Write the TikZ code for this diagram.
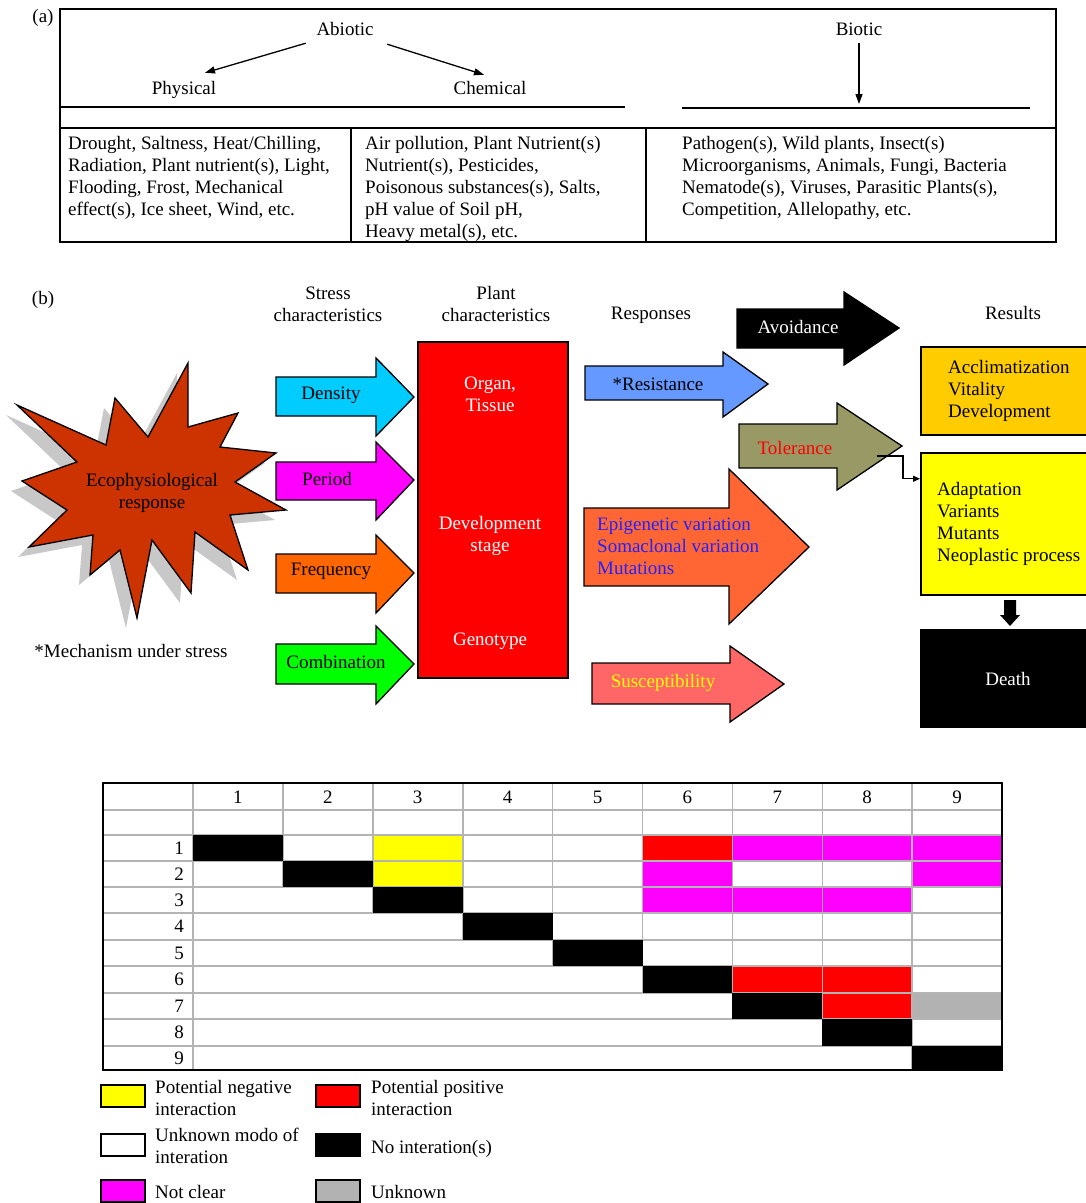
\documentclass[tikz,border=0pt]{standalone}
\usepackage{fontspec}
\setmainfont{Liberation Serif}
\usetikzlibrary{arrows.meta}
\definecolor{starC}{HTML}{CC3300}
\definecolor{denC}{HTML}{00CCFF}
\definecolor{perC}{HTML}{FF00FF}
\definecolor{freC}{HTML}{FF6600}
\definecolor{comC}{HTML}{00FF00}
\definecolor{resC}{HTML}{6699FF}
\definecolor{tolC}{HTML}{999966}
\definecolor{bigC}{HTML}{FF6633}
\definecolor{susC}{HTML}{FF6666}
\definecolor{accC}{HTML}{FFCC00}
\definecolor{yelC}{HTML}{FFFF00}
\definecolor{gryC}{HTML}{B2B2B2}
\definecolor{gridC}{HTML}{B4B4B4}
\definecolor{blueT}{HTML}{2222FF}
\definecolor{shadC}{HTML}{C8C8C8}
\newcommand\blockarr[9]{\draw[blk,fill=#1] (#2,#4) -- (#3,#4) -- (#3,#6) -- (#8,#9) -- (#3,#7) -- (#3,#5) -- (#2,#5) -- cycle;}
\newcommand\starshape[1]{\path[#1] (188,363) -- (188,427) -- (238,413) -- (220,447) -- (276,453) -- (235,482) -- (286,510) -- (230,515) -- (248,570) -- (195,532) -- (191,593) -- (152,540) -- (137,618) -- (120,550) -- (90,575) -- (93,535) -- (29,547) -- (67,510) -- (22,481) -- (77,462) -- (17,405) -- (106,445) -- (115,398) -- (148,437) -- cycle;}
\newcommand\cellfill[3]{%
 \pgfmathsetmacro\cxa{193+89.9*(#1-1)}%
 \pgfmathsetmacro\cya{{835,861,887,913,940,966,993,1019,1046,1070}[#2-1]}%
 \pgfmathsetmacro\cyb{{835,861,887,913,940,966,993,1019,1046,1070}[#2]}%
 \fill[#3] (\cxa,\cya) rectangle (\cxa+89.9,\cyb);}
\begin{document}
\begin{tikzpicture}[x=1pt,y=-1pt,
  every node/.style={font=\fontsize{19}{22}\selectfont, inner sep=0pt},
  lbl/.style={text height=13pt, text depth=4pt},
  blk/.style={draw=black, line width=1.3pt, line join=miter},
  arr/.style={line width=1.3pt, -{Triangle[length=10pt,width=7pt]}},
  gridl/.style={draw=gridC, line width=1.6pt},
  legbox/.style={draw=black, line width=1.5pt, minimum width=44pt, minimum height=22pt},
  listtxt/.style={align=left, anchor=north west}]
\useasboundingbox (0,0) rectangle (1086,1203);
\fill[white] (0,0) rectangle (1086,1203);

% ---------- (a) ----------
\node[lbl] (laba) at (43,18) {(a)};
\draw[line width=2pt] (60,9) rectangle (1056,242);
\draw[line width=1.5pt] (61,107) -- (625,107);
\draw[line width=1.5pt] (682,108) -- (1030,108);
\draw[line width=1.5pt] (60,128) -- (1056,128);
\draw[line width=1.5pt] (351,128) -- (351,242);
\draw[line width=1.5pt] (646,128) -- (646,242);
\node[lbl] (abiotic) at (345,31) {Abiotic};
\node[lbl] (physical) at (184,90) {Physical};
\node[lbl] (chemical) at (490,90) {Chemical};
\node[lbl] (biotic) at (859,31) {Biotic};
\coordinate (biofree) at (859,104);
\draw[arr] ([xshift=-10.5pt,yshift=-3.5pt]abiotic.south west) -- ([xshift=21pt,yshift=8.5pt]physical.north);
\draw[arr] ([xshift=13.5pt,yshift=-4.5pt]abiotic.south east) -- ([xshift=-6pt,yshift=6.5pt]chemical.north);
\draw[arr] ([yshift=-3.5pt]biotic.south) -- (biofree);
\node[listtxt] (physlist) at (68,136) {Drought, Saltness, Heat/Chilling,\\Radiation, Plant nutrient(s), Light,\\Flooding, Frost, Mechanical\\effect(s), Ice sheet, Wind, etc.};
\node[listtxt] (chemlist) at (365,136) {Air pollution, Plant Nutrient(s)\\Nutrient(s), Pesticides,\\Poisonous substances(s), Salts,\\pH value of Soil pH,\\Heavy metal(s), etc.};
\node[listtxt] (biolist) at (682,136) {Pathogen(s), Wild plants, Insect(s)\\Microorganisms, Animals, Fungi, Bacteria\\Nematode(s), Viruses, Parasitic Plants(s),\\Competition, Allelopathy, etc.};

% ---------- (b) ----------
\node[lbl] (labb) at (43,300) {(b)};
\node[align=center] (stresshd) at (328,304) {Stress\\characteristics};
\node[align=center] (planthd) at (496,304) {Plant\\characteristics};
\node[lbl] (resphd) at (651,315) {Responses};
\node[lbl] (resulthd) at (1013,315) {Results};

\starshape{fill=shadC, shift={(-11,10)}}
\starshape{draw=black, line width=1.3pt, fill=starC, line join=miter}
\node[align=center] (eco) at (152,493) {Ecophysiological\\response};
\node[lbl] (mech) at (131,653) {*Mechanism under stress};

\blockarr{denC}{276}{376}{377}{416}{358}{436}{414}{397}
\blockarr{perC}{276}{376}{462}{500}{442}{520}{414}{480}
\blockarr{freC}{276}{376}{554}{593}{535}{613}{414}{573}
\blockarr{comC}{276}{376}{644}{684}{626}{704}{414}{664}
\node[lbl] (density) at (331,395) {Density};
\node[lbl] (period) at (327,481) {Period};
\node[lbl] (frequency) at (331,571) {Frequency};
\node[lbl] (combination) at (336,664) {Combination};

\node[draw=black, line width=1.5pt, fill=red, minimum width=150pt, minimum height=336pt, anchor=north west] (plant) at (417,341) {};
\node[align=center, text=white] (organ) at (490,394) {Organ,\\Tissue};
\node[align=center, text=white] (devst) at (490,536) {Development\\stage};
\node[lbl, text=white] (genotype) at (490,641) {Genotype};

\blockarr{black}{737}{844}{309}{348}{292}{365}{899}{328}
\blockarr{resC}{585}{723}{366}{400}{352}{417}{768}{384}
\blockarr{tolC}{739}{837}{424}{468}{403}{490}{902}{446}
\blockarr{bigC}{584}{729}{508}{586}{469}{624}{809}{547}
\blockarr{susC}{592}{730}{663}{704}{646}{722}{784}{684}
\node[lbl, text=white] (avoid) at (798,329) {Avoidance};
\node[lbl] (resist) at (658,386) {*Resistance};
\node[lbl, text=red] (toler) at (795,450) {Tolerance};
\node[listtxt, text=blueT] (epi) at (597,518) {Epigenetic variation\\Somaclonal variation\\Mutations};
\node[lbl, text=yelC] (suscep) at (663,683) {Susceptibility};

\node[draw=black, line width=1.5pt, fill=accC, minimum width=175pt, minimum height=88pt, anchor=north west] (acc) at (920,346) {};
\node[listtxt] (acctxt) at (948,360) {Acclimatization\\Vitality\\Development};
\node[draw=black, line width=1.5pt, fill=yelC, minimum width=175pt, minimum height=142pt, anchor=north west] (adapt) at (920,452) {};
\node[listtxt] (adapttxt) at (937,482) {Adaptation\\Variants\\Mutants\\Neoplastic process};
\node[draw=black, fill=black, minimum width=175pt, minimum height=98pt, anchor=north west] (death) at (920,629) {};
\node[lbl, text=white] (deathtxt) at (1008,681) {Death};

\coordinate (tolfree) at (877,456);
\draw[line width=1.3pt, -{Triangle[length=7pt,width=6pt]}] (tolfree) -- ++(26,0) |- ([yshift=45pt]adapt.west);
\fill[black] (1004,600) -- (1016,600) -- (1016,615) -- (1020,615) -- (1010,626) -- (1000,615) -- (1004,615) -- cycle;

% ---------- table ----------
\foreach \c/\r/\col in {3/1/yelC, 6/1/red, 7/1/perC, 8/1/perC, 9/1/perC, 3/2/yelC, 6/2/perC, 9/2/perC, 6/3/perC, 7/3/perC, 8/3/perC, 7/6/red, 8/6/red, 8/7/red, 9/7/gryC} {\cellfill{\c}{\r}{\col}}
\foreach \yy in {810,835,861,887,913,940,966,993,1019,1046} {\draw[gridl] (103,\yy) -- (1002,\yy);}
\draw[gridl] (193,783) -- (193,1070);
\foreach \k in {1,...,8} {
  \pgfmathsetmacro\xx{193+89.9*\k}
  \pgfmathsetmacro\yb{{835,861,887,913,940,966,993,1019,1046,1070}[\k+1]}
  \draw[gridl] (\xx,783) -- (\xx,\yb);
}
\foreach \k in {1,...,9} {\cellfill{\k}{\k}{black}}
\draw[line width=2pt] (103,783) rectangle (1002,1070);
\foreach \k in {1,...,9} {
  \node[lbl] (colh\k) at (193+89.9*\k-45,798.5) {\k};
}
\foreach \k/\yy in {1/849.5,2/875.5,3/901.5,4/928,5/954.5,6/981,7/1007.5,8/1034,9/1059.5} {
  \node[lbl, anchor=east] (rowh\k) at (184,\yy) {\k};
}

% ---------- legend ----------
\node[legbox, fill=yelC] (lg1) at (123,1096) {};
\node[legbox, fill=red] (lg2) at (338,1096) {};
\node[legbox, fill=white] (lg3) at (123,1145) {};
\node[legbox, fill=black] (lg4) at (338,1145) {};
\node[legbox, fill=perC] (lg5) at (123,1191) {};
\node[legbox, fill=gryC] (lg6) at (338,1191) {};
\node[listtxt] (lt1) at (155,1080) {Potential negative\\interaction};
\node[listtxt] (lt2) at (371,1080) {Potential positive\\interaction};
\node[listtxt] (lt3) at (155,1128) {Unknown modo of\\interation};
\node[lbl, anchor=west] (lt4) at (371,1148.5) {No interation(s)};
\node[lbl, anchor=west] (lt5) at (155,1193.5) {Not clear};
\node[lbl, anchor=west] (lt6) at (371,1193.5) {Unknown};
\end{tikzpicture}
\end{document}
